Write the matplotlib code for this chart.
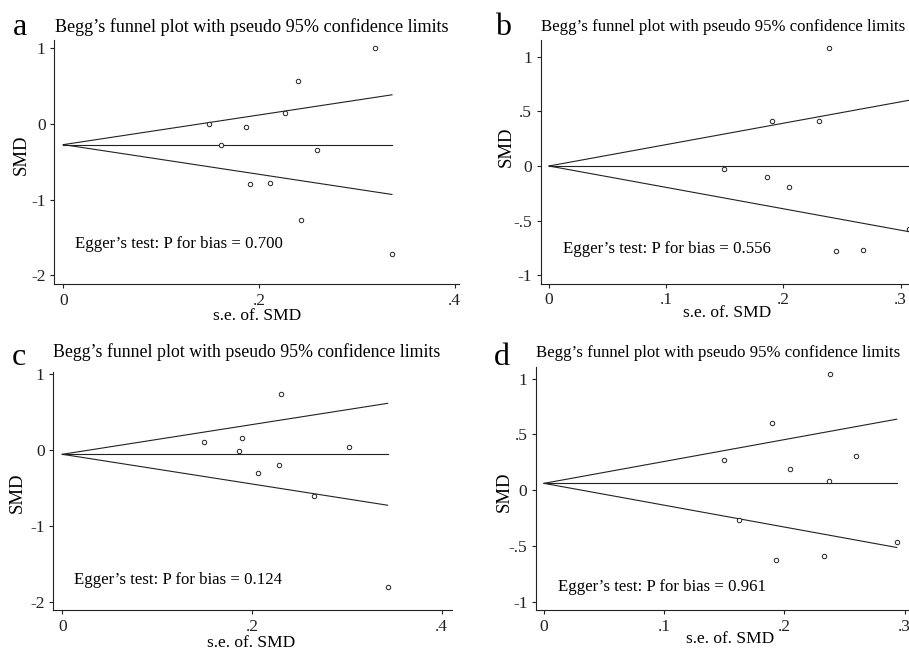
import matplotlib
matplotlib.use("Agg")
import matplotlib.pyplot as plt

plt.rcParams['font.family'] = ['Liberation Serif', 'DejaVu Serif']

W, H = 909, 650

# panel a
se_a = [0.319, 0.240, 0.1486, 0.187, 0.227, 0.161, 0.259, 0.191, 0.211, 0.243, 0.336]
smd_a = [1.004, 0.568, 0.0, -0.035, 0.15, -0.273, -0.344, -0.793, -0.775, -1.269, -1.718]
pooled_a = -0.273
p_a = "0.700"

# panel b
se_b = [0.2388, 0.190, 0.230, 0.149, 0.186, 0.205, 0.245, 0.268, 0.307]
smd_b = [1.084, 0.409, 0.412, -0.031, -0.104, -0.195, -0.776, -0.766, -0.58]
pooled_b = 0.0
p_b = "0.556"

# panel c
se_c = [0.2306, 0.149, 0.189, 0.186, 0.302, 0.206, 0.229, 0.265, 0.343]
smd_c = [0.735, 0.11, 0.158, -0.013, 0.044, -0.299, -0.198, -0.612, -1.804]
pooled_c = -0.057
p_c = "0.124"

# panel d
se_d = [0.238, 0.190, 0.150, 0.205, 0.260, 0.237, 0.162, 0.193, 0.233, 0.2935]
smd_d = [1.040, 0.601, 0.269, 0.188, 0.305, 0.081, -0.266, -0.625, -0.589, -0.466]
pooled_d = 0.060
p_d = "0.961"

xt_wide = [0, 0.2, 0.4]
xt_wide_lab = ["0", ".2", ".4"]
xt_narrow = [0, 0.1, 0.2, 0.3]
xt_narrow_lab = ["0", ".1", ".2", ".3"]
yt_wide = [1, 0, -1, -2]
yt_wide_lab = ["1", "0", "-1", "-2"]
yt_narrow = [1, 0.5, 0, -0.5, -1]
yt_narrow_lab = ["1", ".5", "0", "-.5", "-1"]

title = "Begg\u2019s funnel plot with pseudo 95% confidence limits"

fig = plt.figure(figsize=(W / 100, H / 100), dpi=100)


def px(x, y):
    return x / W, 1 - y / H


def panel(box, xlim, ylim, se, smd, pooled, pval, xt, xtl, yt, ytl,
          letter, letter_xy, title_xy, title_fs, xlab_xy, ylab_xy, egger_y):
    l, t, r, b = box
    ax = fig.add_axes([l / W, 1 - b / H, (r - l) / W, (b - t) / H])
    ax.set_xlim(xlim)
    ax.set_ylim(ylim)
    for s in ['top', 'right']:
        ax.spines[s].set_visible(False)
    for s in ['left', 'bottom']:
        ax.spines[s].set_linewidth(0.8)
        ax.spines[s].set_color('#222222')
    ax.tick_params(direction='out', length=3.2, width=0.8, labelsize=12.5,
                   pad=3, colors='#222222')
    ax.set_xticks(xt, xtl)
    ax.set_yticks(yt, ytl)

    smax = max(se)
    ax.plot([0, smax], [pooled, pooled], color='#222222', lw=0.8)
    ax.plot([0, smax], [pooled, pooled + 1.96 * smax], color='#222222', lw=0.8)
    ax.plot([0, smax], [pooled, pooled - 1.96 * smax], color='#222222', lw=0.8)
    ax.plot(se, smd, 'o', mfc='white', mec='#222222', ms=3.2, mew=0.7,
            clip_on=False)

    ax.text(0.012, egger_y, "Egger\u2019s test: P for bias = " + pval,
            fontsize=12.1, ha='left', va='baseline')

    fig.text(*px(*letter_xy), letter, fontsize=23, ha='left', va='baseline')
    fig.text(*px(*title_xy), title, fontsize=title_fs, ha='left',
             va='baseline')
    fig.text(*px(*xlab_xy), "s.e. of. SMD", fontsize=12.5, ha='center',
             va='center')
    fig.text(*px(*ylab_xy), "SMD", fontsize=13.5, ha='center', va='center',
             rotation=90)
    return ax


panel((54.3, 40, 459, 284), (-0.0092, 0.4045), (-2.115, 1.11),
      se_a, smd_a, pooled_a, p_a, xt_wide, xt_wide_lab, yt_wide, yt_wide_lab,
      "a", (13, 35), (55, 31.7), 13.1, (257, 316), (21.7, 155), -1.643)

panel((540.7, 40, 915, 283.7), (-0.0071, 0.3122), (-1.078, 1.154),
      se_b, smd_b, pooled_b, p_b, xt_narrow, xt_narrow_lab, yt_narrow,
      yt_narrow_lab, "b", (495, 35), (541, 30.7), 12.1, (727, 313),
      (506, 147), -0.80)

panel((53.3, 371.7, 451.7, 610), (-0.0095, 0.4106), (-2.112, 1.033),
      se_c, smd_c, pooled_c, p_c, xt_wide, xt_wide_lab, yt_wide, yt_wide_lab,
      "c", (12, 365), (53, 357.3), 12.8, (251, 643), (17.5, 493), -1.773)

panel((536, 366.7, 925, 610), (-0.00666, 0.317), (-1.076, 1.106),
      se_d, smd_d, pooled_d, p_d, xt_narrow, xt_narrow_lab, yt_narrow,
      yt_narrow_lab, "d", (494, 365), (536, 356.7), 12.1, (730, 639),
      (504.5, 492), -0.903)

fig.savefig("out.png", dpi=100)
